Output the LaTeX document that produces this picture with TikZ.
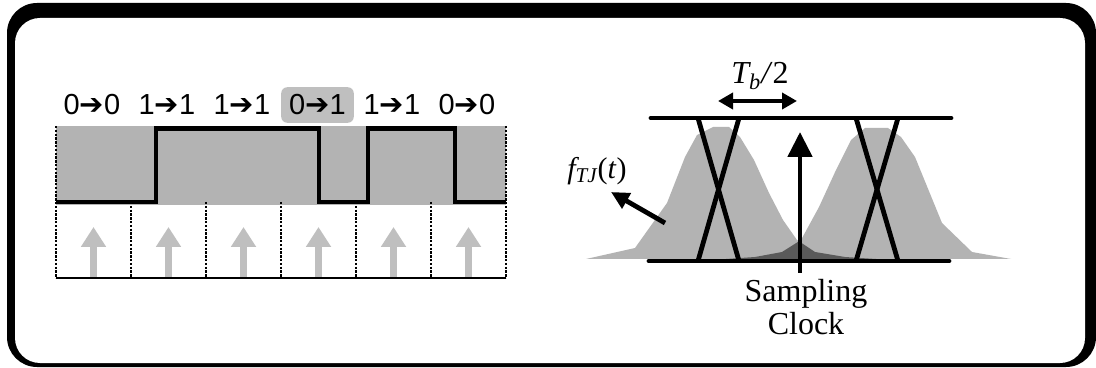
\documentclass[tikz,border=0pt]{standalone}
\usepackage{fontspec}
\setmainfont{Liberation Serif}
\setsansfont{Liberation Sans}
\newfontfamily\arrowfont{DejaVu Sans}
\usetikzlibrary{arrows.meta,positioning}
\definecolor{jitterGray}{HTML}{B3B3B3}
\definecolor{jitterLight}{HTML}{BFBFBF}
\definecolor{jitterDark}{HTML}{5A5A5A}
\newcommand{\bitpair}[2]{#1{\arrowfont ➔}#2}

\begin{document}
\begin{tikzpicture}[x=0.5pt,y=-0.5pt, every node/.style={inner sep=0pt},
    wave/.style={line width=2.4pt, line join=miter},
    cellsep/.style={line width=1.4pt, dash pattern=on 1.2pt off 0.7pt},
    sampleup/.style={jitterLight, line width=3.5pt, -{Triangle[width=12pt,length=10pt]}},
    bitlabel/.style={anchor=base, font=\sffamily\fontsize{14.5}{16}\selectfont},
    rail/.style={line width=2.4pt, line cap=round},
    crossline/.style={line width=2.4pt},
    clockarrow/.style={line width=2.4pt, -{Triangle[width=12pt,length=12.5pt]}},
    halfbit/.style={line width=2.4pt, {Triangle[width=8pt,length=7.5pt]}-{Triangle[width=8pt,length=7.5pt]}},
    pdfarrow/.style={line width=2.4pt, -{Triangle[width=8.5pt,length=9pt]}}]
    % frame
    \useasboundingbox (0,0) rectangle (1096,368);
    \fill[black, rounded corners=15pt] (7,3) rectangle (1096,367);
    \fill[white, rounded corners=12.5pt] (15,18) rectangle (1085,363);

    % left: bit stream
    \fill[jitterGray] (56,126) rectangle (506,205);
    \draw[cellsep] (56,126) -- (56,278);
    \draw[cellsep] (506,126) -- (506,278);
    \draw[cellsep] (131,202) -- (131,278);
    \draw[cellsep] (206,202) -- (206,278);
    \draw[cellsep] (281,202) -- (281,278);
    \draw[cellsep] (356,202) -- (356,278);
    \draw[cellsep] (431,202) -- (431,278);
    \draw[line width=1pt] (56,278) -- (506,278);
    \draw[wave] (56,202) -- (156,202) -- (156,128.5) -- (319,128.5) -- (319,202)
        -- (368,202) -- (368,128.5) -- (455,128.5) -- (455,202) -- (506,202);

    \coordinate (s1) at (93.5,277);  \coordinate (s1t) at (93.5,227);
    \coordinate (s2) at (168.5,277); \coordinate (s2t) at (168.5,227);
    \coordinate (s3) at (243.5,277); \coordinate (s3t) at (243.5,227);
    \coordinate (s4) at (318.5,277); \coordinate (s4t) at (318.5,227);
    \coordinate (s5) at (393.5,277); \coordinate (s5t) at (393.5,227);
    \coordinate (s6) at (468.5,277); \coordinate (s6t) at (468.5,227);
    \draw[sampleup] (s1) -- (s1t);
    \draw[sampleup] (s2) -- (s2t);
    \draw[sampleup] (s3) -- (s3t);
    \draw[sampleup] (s4) -- (s4t);
    \draw[sampleup] (s5) -- (s5t);
    \draw[sampleup] (s6) -- (s6t);

    \node[bitlabel] (b1) at (92,115) {\bitpair{0}{0}};
    \node[bitlabel] (b2) at (167,115) {\bitpair{1}{1}};
    \node[bitlabel] (b3) at (242,115) {\bitpair{1}{1}};
    \node[bitlabel, fill=jitterLight, rounded corners=3pt, inner xsep=4pt, inner ysep=3.75pt] (b4) at (317.5,115) {\bitpair{0}{1}};
    \node[bitlabel] (b5) at (392,115) {\bitpair{1}{1}};
    \node[bitlabel] (b6) at (467,115) {\bitpair{0}{0}};

    % right: jitter distributions
    \def\lefthump{(586,259) -- (635,248) -- (667,203) -- (685,157) -- (697,135) -- (713,127)
        -- (729,127) -- (740,137) -- (754,160) -- (769,193) -- (783,220) -- (797,240)
        -- (815,252) -- (845,257) -- (876,259) -- cycle}
    \def\righthump{(726,259) -- (755,257) -- (782,252) -- (801,240) -- (819,207) -- (836,170)
        -- (851,140) -- (865,128) -- (888,128) -- (901,137) -- (915,157) -- (942,223)
        -- (972,252) -- (1011,259) -- cycle}
    \fill[jitterGray] \lefthump;
    \fill[jitterGray] \righthump;
    \begin{scope}
      \clip \lefthump;
      \fill[jitterDark] \righthump;
    \end{scope}

    \draw[rail] (651,118) -- (951,118);
    \draw[rail] (649,261) -- (949,261);
    \draw[crossline] (698,118) -- (739,261);
    \draw[crossline] (739,118) -- (698,261);
    \draw[crossline] (856,118) -- (898,261);
    \draw[crossline] (898,118) -- (856,261);

    \node[anchor=north, align=center, font=\fontsize{16}{16.5}\selectfont] (clk) at (806,279) {Sampling\\Clock};
    \coordinate (clktip) at (800,132);
    \draw[clockarrow] ([yshift=3pt]clk.north -| clktip) -- (clktip);

    \node[font=\fontsize{16}{18}\selectfont] (tb) at (760,76) {\textit{T\textsubscript{b}/}2};
    \coordinate (hbl) at (718,101);
    \coordinate (hbr) at (797,101);
    \draw[halfbit] (hbl) -- (hbr);

    \node[font=\fontsize{15}{17}\selectfont] (ftj) at (597,171) {\textit{f\textsubscript{TJ}}(\textit{t})};
    \coordinate (ftail) at (665,223);
    \coordinate (ftip) at (611,192);
    \draw[pdfarrow] (ftail) -- (ftip);
  \end{tikzpicture}
\end{document}
